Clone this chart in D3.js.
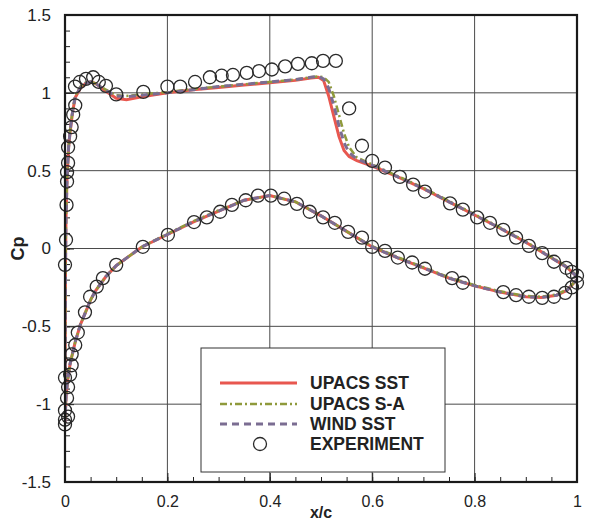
<!DOCTYPE html>
<html>
<head>
<meta charset="utf-8">
<title>Cp distribution</title>
<script src="https://d3js.org/d3.v7.min.js"></script>
<style>
body { margin: 0; background: #fff; }
svg text { font-family: "Liberation Sans", Arial, Helvetica, sans-serif; fill: #222; }
</style>
</head>
<body>
<script>
// ---- data ----
var xTicks = [0, 0.2, 0.4, 0.6, 0.8, 1];
var xTickLabels = ["0", "0.2", "0.4", "0.6", "0.8", "1"];
var yTicks = [-1.5, -1, -0.5, 0, 0.5, 1, 1.5];
var yTickLabels = ["-1.5", "-1", "-0.5", "0", "0.5", "1", "1.5"];

var upperX = [0, 0.0005, 0.001, 0.002, 0.004, 0.007, 0.01, 0.015, 0.02, 0.03, 0.04, 0.05, 0.06, 0.08, 0.1, 0.12, 0.15, 0.2, 0.25, 0.3, 0.35, 0.4, 0.45, 0.48, 0.495, 0.505, 0.515, 0.525, 0.535, 0.545, 0.555, 0.57, 0.6, 0.65, 0.7, 0.75, 0.8, 0.85, 0.9, 0.95, 0.98, 1.0];
var sstUpper = [-1.12, -0.5, -0.1, 0.2, 0.45, 0.65, 0.75, 0.88, 0.97, 1.03, 1.06, 1.07, 1.06, 1.01, 0.965, 0.955, 0.975, 1.0, 1.02, 1.035, 1.05, 1.065, 1.08, 1.095, 1.10, 1.08, 0.98, 0.85, 0.72, 0.63, 0.59, 0.565, 0.53, 0.46, 0.385, 0.30, 0.215, 0.13, 0.04, -0.06, -0.12, -0.18];
var saUpper = [-1.12, -0.5, -0.1, 0.2, 0.45, 0.65, 0.76, 0.89, 0.98, 1.04, 1.065, 1.07, 1.06, 1.02, 0.985, 0.98, 0.99, 1.005, 1.025, 1.04, 1.055, 1.07, 1.085, 1.10, 1.105, 1.10, 1.07, 0.98, 0.86, 0.74, 0.65, 0.585, 0.54, 0.465, 0.39, 0.305, 0.22, 0.135, 0.045, -0.055, -0.115, -0.175];
var windUpper = [-1.12, -0.5, -0.1, 0.2, 0.45, 0.65, 0.755, 0.885, 0.975, 1.035, 1.06, 1.07, 1.06, 1.015, 0.98, 0.975, 0.985, 1.0, 1.02, 1.04, 1.055, 1.07, 1.085, 1.10, 1.105, 1.09, 1.03, 0.92, 0.79, 0.68, 0.615, 0.575, 0.535, 0.46, 0.385, 0.30, 0.215, 0.13, 0.04, -0.06, -0.12, -0.18];

var lowerX = [0, 0.002, 0.005, 0.01, 0.02, 0.03, 0.04, 0.05, 0.06, 0.08, 0.1, 0.15, 0.2, 0.25, 0.3, 0.35, 0.4, 0.45, 0.5, 0.55, 0.6, 0.65, 0.7, 0.75, 0.8, 0.85, 0.9, 0.93, 0.96, 0.98, 1.0];
var sstLower = [-1.12, -0.95, -0.85, -0.74, -0.6, -0.49, -0.41, -0.33, -0.27, -0.18, -0.11, 0.01, 0.09, 0.17, 0.24, 0.31, 0.34, 0.30, 0.21, 0.11, 0.01, -0.06, -0.125, -0.19, -0.24, -0.28, -0.31, -0.315, -0.30, -0.27, -0.2];
var saLower = [-1.12, -0.95, -0.85, -0.74, -0.6, -0.49, -0.41, -0.33, -0.27, -0.18, -0.11, 0.01, 0.095, 0.175, 0.245, 0.31, 0.34, 0.30, 0.21, 0.11, 0.015, -0.055, -0.12, -0.185, -0.235, -0.275, -0.305, -0.31, -0.295, -0.265, -0.2];
var windLower = [-1.12, -0.95, -0.85, -0.74, -0.6, -0.49, -0.41, -0.33, -0.27, -0.18, -0.11, 0.01, 0.09, 0.17, 0.24, 0.31, 0.34, 0.30, 0.21, 0.11, 0.01, -0.06, -0.125, -0.19, -0.24, -0.28, -0.31, -0.315, -0.30, -0.27, -0.2];

var expX = [0.004, 0.006, 0.006, 0.01, 0.013, 0.016, 0.02, 0.0195, 0.004, 0.003, 0.002, 0.0,
  0.029, 0.041, 0.055, 0.066, 0.08, 0.10, 0.153, 0.20, 0.225, 0.254, 0.283, 0.306, 0.328, 0.355, 0.379, 0.404, 0.43, 0.455, 0.482, 0.504, 0.529,
  0.555, 0.58, 0.60, 0.625, 0.654, 0.68, 0.703, 0.752, 0.777, 0.805, 0.83, 0.856, 0.881, 0.906, 0.932, 0.955, 0.979, 0.99, 1.0,
  0.0, 0.0, 0.006, 0.0, 0.004, 0.006, 0.0, 0.01, 0.013, 0.013, 0.02, 0.025, 0.039, 0.049, 0.062, 0.074, 0.10, 0.152, 0.201, 0.252, 0.277,
  0.303, 0.326, 0.353, 0.377, 0.402, 0.428, 0.453, 0.478, 0.504, 0.527, 0.553, 0.58, 0.60, 0.625, 0.65, 0.678, 0.703, 0.756, 0.777,
  0.856, 0.881, 0.906, 0.932, 0.955, 0.977, 0.99, 1.0];
var expCp = [0.49, 0.55, 0.65, 0.72, 0.78, 0.86, 0.92, 1.04, 0.43, 0.28, 0.056, -0.105,
  1.07, 1.09, 1.10, 1.07, 1.045, 0.99, 1.006, 1.04, 1.04, 1.07, 1.10, 1.11, 1.115, 1.128, 1.14, 1.15, 1.17, 1.186, 1.19, 1.205, 1.205,
  0.90, 0.66, 0.563, 0.52, 0.46, 0.41, 0.366, 0.29, 0.25, 0.20, 0.165, 0.12, 0.07, 0.017, -0.03, -0.085, -0.124, -0.15, -0.175,
  -1.13, -1.10, -1.08, -1.04, -0.96, -0.89, -0.83, -0.81, -0.75, -0.68, -0.62, -0.54, -0.41, -0.31, -0.245, -0.19, -0.105, 0.011, 0.088, 0.17, 0.2,
  0.236, 0.28, 0.31, 0.34, 0.34, 0.32, 0.287, 0.236, 0.20, 0.165, 0.107, 0.07, 0.01, -0.015, -0.058, -0.09, -0.13, -0.19, -0.22,
  -0.28, -0.30, -0.31, -0.317, -0.31, -0.285, -0.25, -0.22];

var seriesNames = ["UPACS SST", "UPACS S-A", "WIND SST", "EXPERIMENT"];

// ---- layout ----
var W = 595, H = 525;
var plotL = 65, plotR = 577, plotT = 15, plotB = 482;

var svg = d3.select("body").append("svg")
    .attr("width", W).attr("height", H);

var x = d3.scaleLinear().domain([0, 1]).range([plotL, plotR]);
var y = d3.scaleLinear().domain([-1.5, 1.5]).range([plotB, plotT]);

// grid
svg.append("g").selectAll("line")
  .data(xTicks.slice(1, -1)).enter().append("line")
    .attr("x1", function(d){ return x(d); }).attr("x2", function(d){ return x(d); })
    .attr("y1", plotT).attr("y2", plotB)
    .attr("stroke", "#4a4a4a").attr("stroke-width", 1);
svg.append("g").selectAll("line")
  .data(yTicks.slice(1, -1)).enter().append("line")
    .attr("y1", function(d){ return y(d); }).attr("y2", function(d){ return y(d); })
    .attr("x1", plotL).attr("x2", plotR)
    .attr("stroke", "#4a4a4a").attr("stroke-width", 1);

// minor + major ticks (inward)
var xMinor = d3.range(0, 1.0001, 0.05);
var yMinor = d3.range(-1.5, 1.5001, 0.1);
svg.append("g")
    .attr("transform", "translate(0," + plotB + ")")
    .call(d3.axisBottom(x).tickValues(xMinor).tickSize(-5).tickFormat(""))
    .call(function(g){ g.select(".domain").remove(); });
svg.append("g")
    .attr("transform", "translate(0," + plotB + ")")
    .call(d3.axisBottom(x).tickValues(xTicks).tickSize(-9).tickPadding(14)
      .tickFormat(function(d, i){ return xTickLabels[i]; }))
    .call(function(g){
      g.select(".domain").remove();
      g.selectAll("text").attr("font-size", 16).attr("fill", "#222")
        .attr("font-family", "Liberation Sans, Arial, sans-serif");
    });
svg.append("g")
    .attr("transform", "translate(" + plotL + ",0)")
    .call(d3.axisLeft(y).tickValues(yMinor).tickSize(-5).tickFormat(""))
    .call(function(g){ g.select(".domain").remove(); });
svg.append("g")
    .attr("transform", "translate(" + plotL + ",0)")
    .call(d3.axisLeft(y).tickValues(yTicks).tickSize(-9).tickPadding(14)
      .tickFormat(function(d, i){ return yTickLabels[i]; }))
    .call(function(g){
      g.select(".domain").remove();
      g.selectAll("text").attr("font-size", 17).attr("fill", "#222")
        .attr("font-family", "Liberation Sans, Arial, sans-serif");
    });
svg.selectAll(".tick line").attr("stroke", "#222");

// curves
function loop(ux, uc, lx, lc) {
  var pts = [];
  for (var i = ux.length - 1; i >= 0; i--) pts.push([ux[i], uc[i]]);
  for (var j = 1; j < lx.length; j++) pts.push([lx[j], lc[j]]);
  return pts;
}
var line = d3.line()
    .x(function(d){ return x(d[0]); })
    .y(function(d){ return y(d[1]); });

svg.append("clipPath").attr("id", "clip")
  .append("rect").attr("x", plotL).attr("y", plotT)
  .attr("width", plotR - plotL).attr("height", plotB - plotT);

var plot = svg.append("g").attr("clip-path", "url(#clip)");

plot.append("path").datum(loop(upperX, sstUpper, lowerX, sstLower))
    .attr("d", line).attr("fill", "none")
    .attr("stroke", "#e8574f").attr("stroke-width", 3);
plot.append("path").datum(loop(upperX, saUpper, lowerX, saLower))
    .attr("d", line).attr("fill", "none")
    .attr("stroke", "#8f9a3c").attr("stroke-width", 2.5)
    .attr("stroke-dasharray", "7,3,2,3");
plot.append("path").datum(loop(upperX, windUpper, lowerX, windLower))
    .attr("d", line).attr("fill", "none")
    .attr("stroke", "#7b6d92").attr("stroke-width", 3)
    .attr("stroke-dasharray", "7,5");

// experiment
svg.append("g").selectAll("circle")
  .data(expX).enter().append("circle")
    .attr("cx", function(d){ return x(d); })
    .attr("cy", function(d, i){ return y(expCp[i]); })
    .attr("r", 6.5)
    .attr("fill", "none")
    .attr("stroke", "#2a2a2a").attr("stroke-width", 1.3);

// frame
svg.append("rect")
    .attr("x", plotL).attr("y", plotT)
    .attr("width", plotR - plotL).attr("height", plotB - plotT)
    .attr("fill", "none").attr("stroke", "#1a1a1a").attr("stroke-width", 2.2);

// axis titles
svg.append("text")
    .attr("x", (plotL + plotR) / 2).attr("y", 518)
    .attr("text-anchor", "middle").attr("font-size", 16).attr("font-weight", "bold")
    .text("x/c");
svg.append("text")
    .attr("transform", "translate(24," + y(0) + ") rotate(-90)")
    .attr("text-anchor", "middle").attr("font-size", 18).attr("font-weight", "bold")
    .text("Cp");

// legend
var lg = svg.append("g");
lg.append("rect")
    .attr("x", 201).attr("y", 348).attr("width", 244).attr("height", 124)
    .attr("fill", "#fff").attr("stroke", "#333").attr("stroke-width", 1);
var rowY = [383, 404, 424, 444];
var styles = [
  {stroke: "#e8574f", w: 3, dash: null},
  {stroke: "#8f9a3c", w: 2.5, dash: "7,3,2,3"},
  {stroke: "#7b6d92", w: 3, dash: "7,5"}
];
styles.forEach(function(s, i){
  lg.append("line")
      .attr("x1", 220).attr("x2", 297)
      .attr("y1", rowY[i]).attr("y2", rowY[i])
      .attr("stroke", s.stroke).attr("stroke-width", s.w)
      .attr("stroke-dasharray", s.dash);
});
lg.append("circle")
    .attr("cx", 260).attr("cy", rowY[3]).attr("r", 6.5)
    .attr("fill", "none").attr("stroke", "#2a2a2a").attr("stroke-width", 1.3);
lg.selectAll("text.lab")
  .data(seriesNames).enter().append("text")
    .attr("class", "lab")
    .attr("x", 310)
    .attr("y", function(d, i){ return rowY[i] + 6; })
    .attr("font-size", 17.5).attr("font-weight", "bold")
    .text(function(d){ return d; });
</script>
</body>
</html>
